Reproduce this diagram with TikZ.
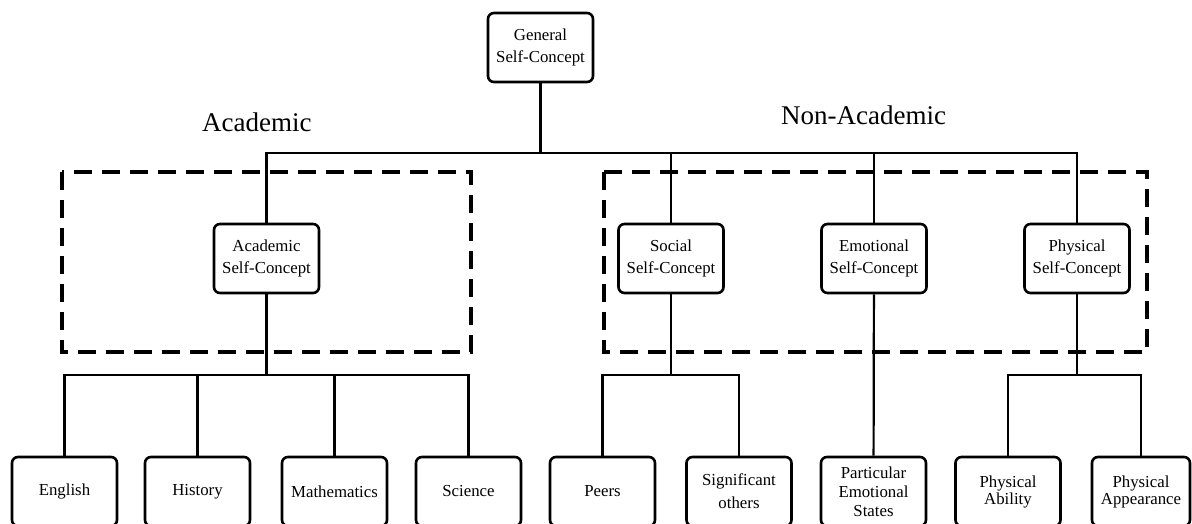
\documentclass[tikz,border=0pt]{standalone}
\usepackage{fontspec}
\setmainfont{Liberation Serif}
\begin{document}
\begin{tikzpicture}[x=1pt,y=-1pt,
  box/.style={draw, line width=2.6pt, rounded corners=6pt, minimum width=105pt,
    minimum height=69pt, align=center, inner sep=0pt,
    font=\fontsize{16.8}{22}\selectfont},
  conn/.style={line width=2.2pt, line join=miter},
  dashbox/.style={line width=4pt, dash pattern=on 18pt off 10pt},
  head/.style={anchor=base west, inner sep=0pt, font=\fontsize{27}{30}\selectfont}]
\useasboundingbox[fill=white] (0,0) rectangle (1192,524);

% dashed groups
\draw[dashbox] (62,172) rectangle (471,352);
\draw[dashbox] (604,172) rectangle (1147,352);

% headings
\node[head] (hA) at (202,132) {Academic};
\node[head] (hN) at (781,125) {Non-Academic};

% top
\node[box, fill=white] (gen) at (540.5,47.5) {General\\Self-Concept};

% second level
\node[box, fill=white] (ac) at (266.5,258.5) {Academic\\Self-Concept};
\node[box, fill=white] (so) at (671,258.5) {Social\\Self-Concept};
\node[box, fill=white] (em) at (874,258.5) {Emotional\\Self-Concept};
\node[box, fill=white] (ph) at (1077,258.5) {Physical\\Self-Concept};

% bottom level
\node[box] (en) at (64.5,491.5) {English};
\node[box] (hi) at (197.5,491.5) {History};
\node[box] (ma) at (334.5,491.5) {Mathematics};
\node[box] (sc) at (468.5,491.5) {Science};
\node[box] (pe) at (602.5,491.5) {Peers};
\node[box, font=\fontsize{16.8}{23}\selectfont] (si) at (739,491.5) {Significant\\others};
\node[box, font=\fontsize{16.8}{19}\selectfont] (pa) at (873.5,491.5) {Particular\\Emotional\\States};
\node[box, font=\fontsize{16.8}{17}\selectfont] (ab) at (1008,491.5) {Physical\\Ability};
\node[box, minimum width=98pt, font=\fontsize{16.8}{17}\selectfont] (ap) at (1141,491.5) {Physical\\Appearance};

% bus coordinates
\coordinate (tb) at (540.5,153);
\coordinate (acb) at (266.5,375);
\coordinate (sob) at (671,375);
\coordinate (phb) at (1077,375);

% connectors
\draw[conn] (gen) -- (tb);
\draw[conn] (tb) -| (ac);
\draw[conn] (tb) -| (so);
\draw[conn] (tb) -| (em);
\draw[conn] (tb) -| (ph);

\draw[conn] (ac) -- (acb);
\draw[conn] (acb) -| (en);
\draw[conn] (acb) -| (hi);
\draw[conn] (acb) -| (ma);
\draw[conn] (acb) -| (sc);

\draw[conn] (so) -- (sob);
\draw[conn] (sob) -| (pe);
\draw[conn] (sob) -| (si);

\draw[conn] (em) -- (pa);

\draw[conn] (ph) -- (phb);
\draw[conn] (phb) -| (ab);
\draw[conn] (phb) -| (ap);
\end{tikzpicture}
\end{document}
